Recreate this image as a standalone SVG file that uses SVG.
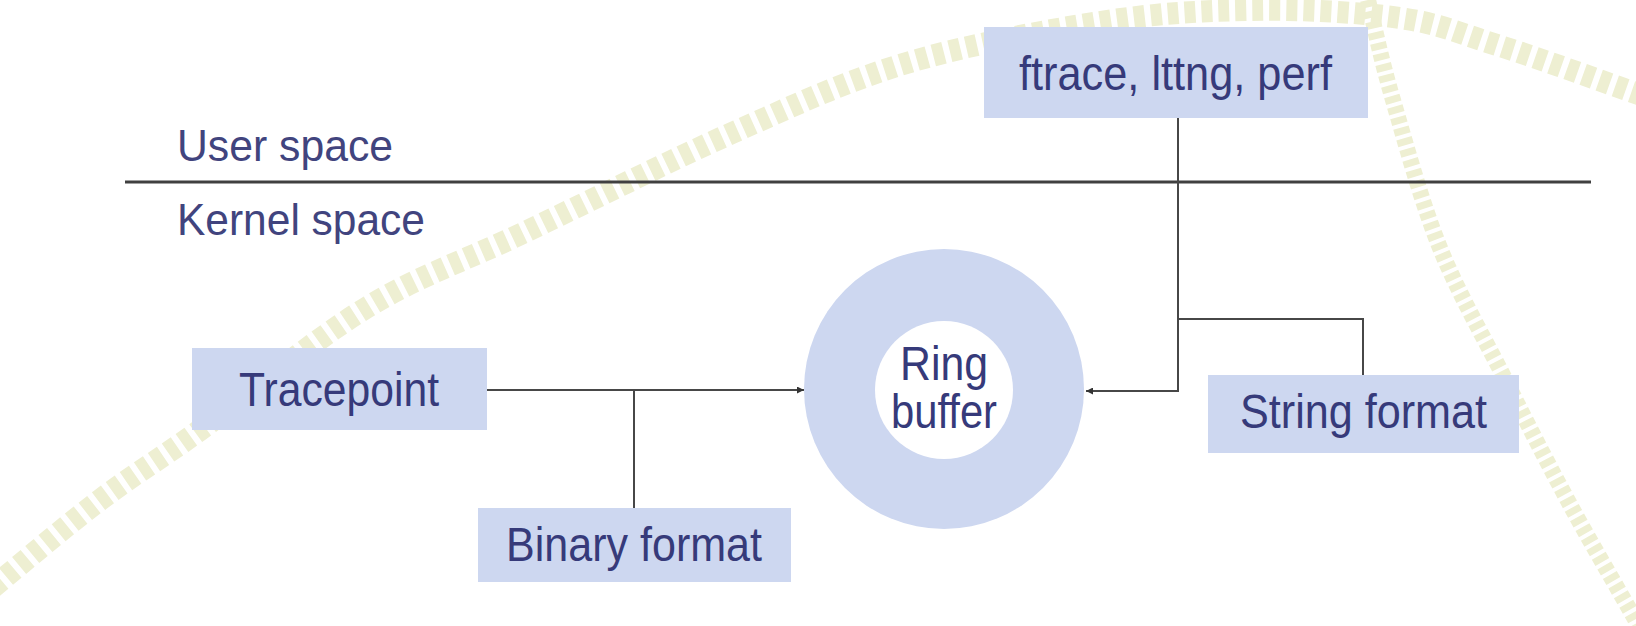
<svg xmlns="http://www.w3.org/2000/svg" width="1636" height="626" viewBox="0 0 1636 626">
<style>
.deco{fill:none;stroke:#eeefd2}
.box{fill:#cdd7f0}
.lbl{font-family:"Liberation Sans",Arial,sans-serif;fill:#363a7a;font-size:48px}
.side{font-family:"Liberation Sans",Arial,sans-serif;fill:#41447e;font-size:44px}
.conn{fill:none;stroke:#474747;stroke-width:2}
</style>
<defs>
<marker id="arr" viewBox="0 0 10 10" refX="10" refY="5" markerWidth="9" markerHeight="7" markerUnits="userSpaceOnUse" orient="auto">
<path d="M0,0 L10,5 L0,10 z" fill="#333"/>
</marker>
</defs>
<rect x="0" y="0" width="1636" height="626" fill="#ffffff"/>
<g id="decoration">
<path class="deco" stroke-width="22" stroke-dasharray="11 6" d="M-20,598 C20,565 63,528 100,500 C137,472 156,462 200,430 C244,398 312,341 366,308 C420,275 462,262 523,233 C584,204 669,161 732,133 C795,105 839,84 900,65 C961,46 1042,31 1100,22 C1158,13 1200,11 1250,10 C1300,9 1358,12 1400,18 C1442,24 1458,33 1500,46 C1542,59 1600,81 1650,98"/>
<path class="deco" stroke-width="16" stroke-dasharray="7 4" d="M1368,0 C1376,33 1381,59 1393,100 C1405,141 1421,201 1440,248 C1459,295 1486,341 1507,383 C1528,425 1545,458 1567,499 C1589,540 1616,585 1640,628"/>
</g>
<g id="divider">
<line x1="125" y1="182" x2="1591" y2="182" stroke="#404040" stroke-width="3"/>
<text class="side" x="177" y="161" textLength="216" lengthAdjust="spacingAndGlyphs">User space</text>
<text class="side" x="177" y="235" textLength="248" lengthAdjust="spacingAndGlyphs">Kernel space</text>
</g>
<g id="connectors">
<path class="conn" d="M487,390 H804" marker-end="url(#arr)"/>
<path class="conn" d="M634,390 V508"/>
<path class="conn" d="M1178,118 V391 H1086" marker-end="url(#arr)"/>
<path class="conn" d="M1178,319 H1363 V375"/>
</g>
<g id="ftrace">
<rect class="box" x="984" y="27" width="384" height="91"/>
<text class="lbl" x="1019" y="90" textLength="313" lengthAdjust="spacingAndGlyphs">ftrace, lttng, perf</text>
</g>
<g id="tracepoint">
<rect class="box" x="192" y="348" width="295" height="82"/>
<text class="lbl" x="239" y="406" textLength="200" lengthAdjust="spacingAndGlyphs">Tracepoint</text>
</g>
<g id="binary">
<rect class="box" x="478" y="508" width="313" height="74"/>
<text class="lbl" x="506" y="561" textLength="256" lengthAdjust="spacingAndGlyphs">Binary format</text>
</g>
<g id="ring">
<circle cx="944" cy="389" r="140" fill="#cdd7f0"/>
<circle cx="944" cy="390" r="69" fill="#ffffff"/>
<text class="lbl" x="900" y="380" textLength="88" lengthAdjust="spacingAndGlyphs">Ring</text>
<text class="lbl" x="891" y="428" textLength="106" lengthAdjust="spacingAndGlyphs">buffer</text>
</g>
<g id="string">
<rect class="box" x="1208" y="375" width="311" height="78"/>
<text class="lbl" x="1240" y="428" textLength="247" lengthAdjust="spacingAndGlyphs">String format</text>
</g>
</svg>
